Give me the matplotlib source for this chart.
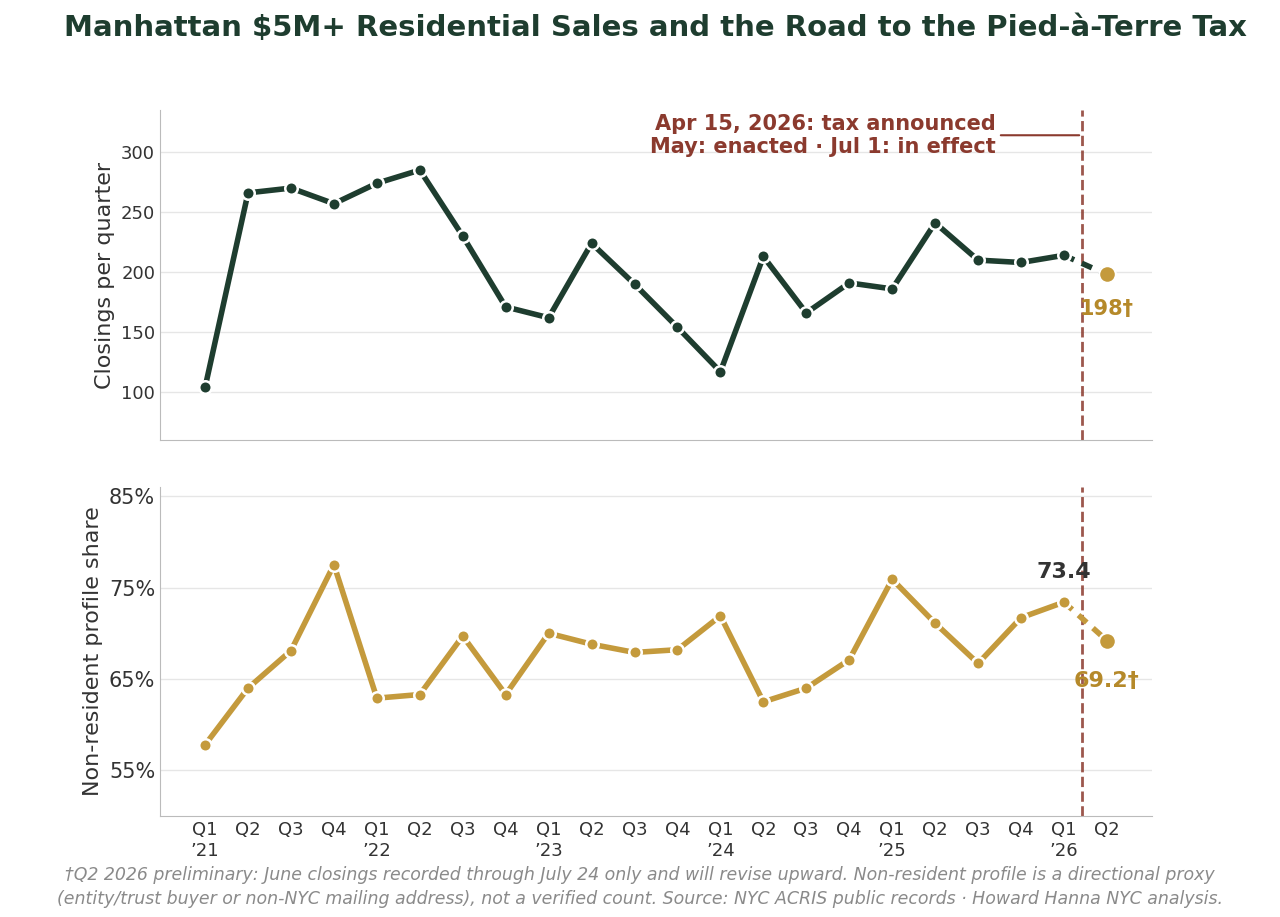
import matplotlib.pyplot as plt
import numpy as np

quarters = ['Q1\n’21', 'Q2', 'Q3', 'Q4', 'Q1\n’22', 'Q2', 'Q3', 'Q4', 'Q1\n’23', 'Q2', 'Q3', 'Q4',
            'Q1\n’24', 'Q2', 'Q3', 'Q4', 'Q1\n’25', 'Q2', 'Q3', 'Q4', 'Q1\n’26', 'Q2']
closings = [104, 266, 270, 257, 274, 285, 230, 171, 162, 224, 190, 154,
            117, 213, 166, 191, 186, 241, 210, 208, 214, 198]
nonres_share = [57.8, 64.0, 68.1, 77.5, 62.9, 63.3, 69.7, 63.3, 70.0, 68.8, 67.9, 68.2,
                71.9, 62.5, 64.0, 67.1, 75.9, 71.1, 66.7, 71.7, 73.4, 69.2]
tax_x = 20.42

green = '#1e3d2f'
gold = '#c49a3c'
gold_dark = '#b5892a'
red = '#8b3a2e'

fig = plt.figure(figsize=(12.8, 9.17), dpi=100)
ax1 = fig.add_axes([0.125, 0.52, 0.775, 0.36])
ax2 = fig.add_axes([0.125, 0.11, 0.775, 0.359])
x = np.arange(len(quarters))

def style(ax):
    for s in ['top', 'right']:
        ax.spines[s].set_visible(False)
    for s in ['left', 'bottom']:
        ax.spines[s].set_color('#bbbbbb')
    ax.grid(axis='y', color='#e6e6e6', lw=1)
    ax.set_axisbelow(True)
    ax.tick_params(length=0, labelsize=13, colors='#333333')
    ax.set_xlim(-1.05, 22.05)
    ax.axvline(tax_x, color=red, ls='--', lw=2, alpha=0.85)

# top panel
style(ax1)
ax1.plot(x[:-1], closings[:-1], color=green, lw=4, marker='o', ms=9,
         mfc=green, mec='white', mew=1.8, zorder=3)
ax1.plot(x[-2:], closings[-2:], color=green, lw=4, ls=(0, (2, 1.5)), zorder=2)
ax1.plot(x[-1], closings[-1], 'o', color=gold, ms=12, mec='white', mew=1.5, zorder=4)
ax1.text(x[-1], closings[-1] - 20, f'{closings[-1]}†', color=gold_dark, fontsize=15,
         fontweight='bold', ha='center', va='top')
ax1.set_ylim(60, 335)
ax1.set_yticks([100, 150, 200, 250, 300])
ax1.set_xticks([])
ax1.set_ylabel('Closings per quarter', fontsize=16, color='#333333')
ax1.annotate('Apr 15, 2026: tax announced\nMay: enacted · Jul 1: in effect',
             xy=(tax_x, 314), xytext=(18.4, 314), ha='right', va='center',
             color=red, fontsize=15, fontweight='bold',
             arrowprops=dict(arrowstyle='-', color=red, lw=1.5))

# bottom panel
style(ax2)
ax2.plot(x[:-1], nonres_share[:-1], color=gold, lw=4, marker='o', ms=9,
         mfc=gold, mec='white', mew=1.8, zorder=3)
ax2.plot(x[-2:], nonres_share[-2:], color=gold, lw=4, ls=(0, (2, 1.5)), zorder=2)
ax2.plot(x[-1], nonres_share[-1], 'o', color=gold, ms=12, mec='white', mew=1.5, zorder=4)
ax2.text(x[-2], nonres_share[-2] + 2.2, f'{nonres_share[-2]}', color='#333333', fontsize=16,
         fontweight='bold', ha='center', va='bottom')
ax2.text(x[-1], nonres_share[-1] - 3.3, f'{nonres_share[-1]}†', color=gold_dark, fontsize=16,
         fontweight='bold', ha='center', va='top')
ax2.set_ylim(50, 86)
ax2.set_yticks([55, 65, 75, 85])
ax2.set_yticklabels(['55%', '65%', '75%', '85%'], fontsize=15)
ax2.set_xticks(x)
ax2.set_xticklabels(quarters, fontsize=13)
ax2.set_ylabel('Non-resident profile share', fontsize=16, color='#333333')

fig.suptitle('Manhattan $5M+ Residential Sales and the Road to the Pied-à-Terre Tax',
             fontsize=21, fontweight='bold', color=green, x=0.512, y=0.985)
fig.text(0.5, 0.033, '†Q2 2026 preliminary: June closings recorded through July 24 only and will revise upward. '
         'Non-resident profile is a directional proxy\n(entity/trust buyer or non-NYC mailing address), '
         'not a verified count. Source: NYC ACRIS public records · Howard Hanna NYC analysis.',
         ha='center', va='center', fontsize=12.5, style='italic', color='#8a8a8a', linespacing=1.4)

fig.savefig('out.png', dpi=100)
